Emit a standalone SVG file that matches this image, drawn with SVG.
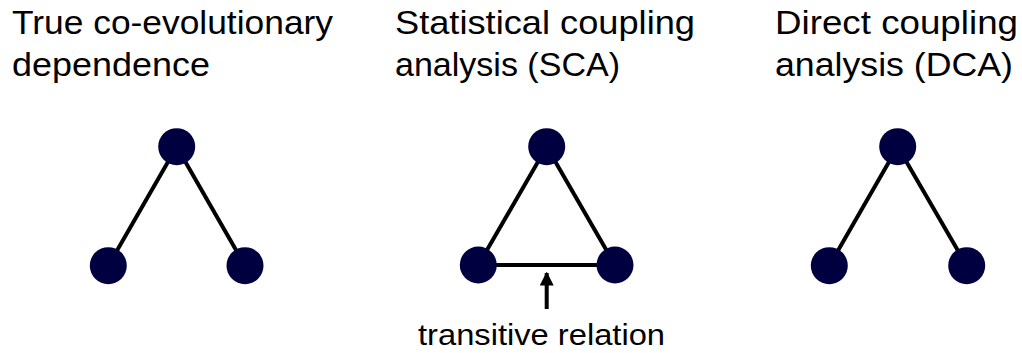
<svg xmlns="http://www.w3.org/2000/svg" width="1022" height="353" viewBox="0 0 1022 353">
<style>
text{font-family:"Liberation Sans",Arial,sans-serif;fill:#000;}
.t{font-size:34px;}
.s{font-size:29px;}
.n{fill:#000040;}
.e{stroke:#000;stroke-width:4;fill:none;}
</style>
<defs>
<marker id="ah" viewBox="0 0 10 10" refX="9" refY="5" markerWidth="3.5" markerHeight="3.5" orient="auto">
<path d="M0,0 L10,5 L0,10 z" fill="#000"/>
</marker>
</defs>
<rect width="1022" height="353" fill="#fff"/>
<g id="titles">
<text class="t" x="12" y="34" textLength="321" lengthAdjust="spacingAndGlyphs">True co-evolutionary</text>
<text class="t" x="12" y="76" textLength="198" lengthAdjust="spacingAndGlyphs">dependence</text>
<text class="t" x="395" y="34" textLength="300" lengthAdjust="spacingAndGlyphs">Statistical coupling</text>
<text class="t" x="395" y="76" textLength="225" lengthAdjust="spacingAndGlyphs">analysis (SCA)</text>
<text class="t" x="775" y="34" textLength="243" lengthAdjust="spacingAndGlyphs">Direct coupling</text>
<text class="t" x="775" y="76" textLength="238" lengthAdjust="spacingAndGlyphs">analysis (DCA)</text>
</g>
<g id="connectors">
<line class="e" x1="176.7" y1="146.7" x2="108.3" y2="265.7"/>
<line class="e" x1="176.7" y1="146.7" x2="245" y2="265.7"/>
<line class="e" x1="546.7" y1="146.7" x2="478.3" y2="265"/>
<line class="e" x1="546.7" y1="146.7" x2="615" y2="265"/>
<line class="e" x1="478.3" y1="265" x2="615" y2="265"/>
<line class="e" x1="897.7" y1="146.7" x2="829.3" y2="265.7"/>
<line class="e" x1="897.7" y1="146.7" x2="966.7" y2="265.7"/>
<line class="e" x1="546.7" y1="309" x2="546.7" y2="273" marker-end="url(#ah)"/>
</g>
<g id="n1a"><circle class="n" cx="176.7" cy="146.7" r="18.5"/></g>
<g id="n1b"><circle class="n" cx="108.3" cy="265.7" r="18.5"/></g>
<g id="n1c"><circle class="n" cx="245" cy="265.7" r="18.5"/></g>
<g id="n2a"><circle class="n" cx="546.7" cy="146.7" r="18.5"/></g>
<g id="n2b"><circle class="n" cx="478.3" cy="265" r="18.5"/></g>
<g id="n2c"><circle class="n" cx="615" cy="265" r="18.5"/></g>
<g id="n3a"><circle class="n" cx="897.7" cy="146.7" r="18.5"/></g>
<g id="n3b"><circle class="n" cx="829.3" cy="265.7" r="18.5"/></g>
<g id="n3c"><circle class="n" cx="966.7" cy="265.7" r="18.5"/></g>
<g id="label">
<text class="s" x="418" y="345" textLength="247" lengthAdjust="spacingAndGlyphs">transitive relation</text>
</g>
</svg>
